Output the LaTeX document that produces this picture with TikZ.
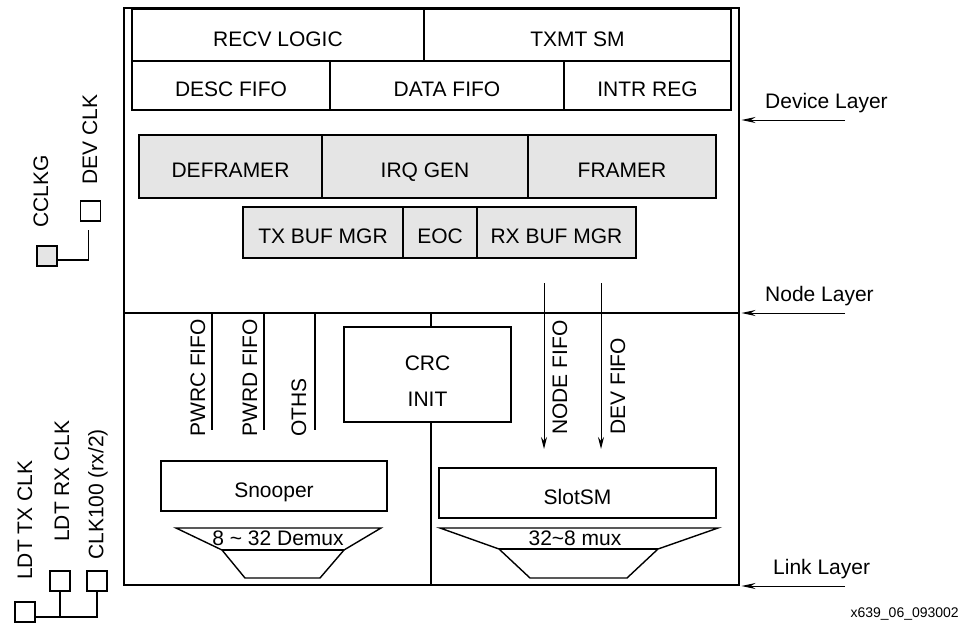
\documentclass[tikz,border=0pt]{standalone}
\usepackage{fontspec}
\setmainfont{Liberation Sans}
\usetikzlibrary{positioning, arrows.meta}
\tikzstyle{blk} = [draw, line width=1.6pt, inner sep=0pt, outer sep=0pt, text height=22pt, text depth=0pt]
\tikzstyle{grayblk} = [blk, fill=black!10]
\tikzstyle{pin} = [draw, line width=1.4pt, inner sep=0pt, outer sep=0pt, minimum width=20, minimum height=20]
\tikzstyle{vlabel} = [rotate=90, anchor=west, inner sep=0pt]
\tikzstyle{stub} = [line width=2.4pt]
\tikzstyle{fifoarrow} = [line width=1pt, -{Stealth[length=12pt,width=6pt]}]
\tikzstyle{layerarrow} = [line width=1pt, -{Stealth[length=14pt,width=6pt]}]

\begin{document}
\begin{tikzpicture}[x=1pt, y=-1pt, font=\fontsize{21}{25}\selectfont]
\useasboundingbox (0,0) rectangle (962,622);

% outer frame of the three layers
\node (frame) [draw, line width=2.4pt, inner sep=0pt, outer sep=0pt, minimum width=615, minimum height=577, anchor=north west] at (124,8) {};

% device layer
\node (recv) [blk, minimum width=292, minimum height=52, anchor=north west] at (132,9) {RECV LOGIC};
\node (txmt) [blk, minimum width=307, minimum height=52, right=0pt of recv] {TXMT SM};
\node (desc) [blk, minimum width=198, minimum height=49, anchor=north west] at (recv.south west) {DESC FIFO};
\node (data) [blk, minimum width=234, minimum height=49, right=0pt of desc] {DATA FIFO};
\node (intr) [blk, minimum width=167, minimum height=49, right=0pt of data] {INTR REG};

% node layer
\node (deframer) [grayblk, minimum width=183, minimum height=63, anchor=north west] at (139,135) {DEFRAMER};
\node (irqgen) [grayblk, minimum width=206, minimum height=63, right=0pt of deframer] {IRQ GEN};
\node (framer) [grayblk, minimum width=188, minimum height=63, right=0pt of irqgen] {FRAMER};
\node (txbuf) [grayblk, minimum width=160, minimum height=51, anchor=north west] at (243,207) {TX BUF MGR};
\node (eoc) [grayblk, minimum width=74, minimum height=51, right=0pt of txbuf] {EOC};
\node (rxbuf) [grayblk, minimum width=159, minimum height=51, right=0pt of eoc] {RX BUF MGR};

\coordinate (nodeline) at (124,313);
\coordinate (divtop) at (431,313);
\draw [stub] (frame.west |- nodeline) -- (frame.east |- nodeline);
\draw [stub] (divtop) -- (divtop |- frame.south);

% link layer
\node (crc) [blk, fill=white, minimum width=167, minimum height=95, align=center, text height={}, text depth={}, font=\fontsize{21}{36}\selectfont] at (427.5,374.5) {\rule{0pt}{27pt}CRC\\INIT};

\coordinate (pwrctop) at (212,313);
\coordinate (pwrcend) at (212,430);
\coordinate (pwrdtop) at (264,313);
\coordinate (pwrdend) at (264,430);
\coordinate (othstop) at (315,313);
\coordinate (othsend) at (315,430);
\draw [stub] (pwrctop) -- (pwrcend);
\draw [stub] (pwrdtop) -- (pwrdend);
\draw [stub] (othstop) -- (othsend);
\node (pwrc) [vlabel] at (198,437) {PWRC FIFO};
\node (pwrd) [vlabel] at (250,437) {PWRD FIFO};
\node (oths) [vlabel] at (299,437) {OTHS};

\coordinate (nodefifotop) at (544,283);
\coordinate (nodefifoend) at (544,449);
\coordinate (devfifotop) at (601,283);
\coordinate (devfifoend) at (601,449);
\draw [fifoarrow] (nodefifotop) -- (nodefifoend);
\draw [fifoarrow] (devfifotop) -- (devfifoend);
\node (nodefifo) [vlabel] at (560,435) {NODE FIFO};
\node (devfifo) [vlabel] at (618,435) {DEV FIFO};

\node (snooper) [blk, minimum width=226, minimum height=50] at (274,486) {Snooper};
\node (slotsm) [blk, minimum width=277, minimum height=50] at (577.5,493) {SlotSM};

% demux and mux
\draw [line width=1.4pt] (176,528) -- (381,528) -- (344,550) -- (320,578) -- (245,578) -- (222,550) -- cycle;
\draw [line width=1.4pt] (222,550) -- (344,550);
\node (demux) [inner sep=0pt] at (278,538) {8 \textasciitilde\ 32 Demux};
\draw [line width=1.4pt] (440,528) -- (718,528) -- (658,549) -- (627,578) -- (530,578) -- (499,549) -- cycle;
\draw [line width=1.4pt] (499,549) -- (658,549);
\node (mux) [inner sep=0pt] at (575,538) {32\textasciitilde 8 mux};

% layer pointers
\node (devlayer) [anchor=west, inner sep=0pt] at (765,103) {Device Layer};
\node (nodelayer) [anchor=west, inner sep=0pt] at (765,296) {Node Layer};
\node (linklayer) [anchor=west, inner sep=0pt] at (773,569) {Link Layer};
\coordinate (devtail) at (845,120);
\coordinate (nodetail) at (845,313);
\coordinate (linktail) at (845,586);
\draw [layerarrow, shorten >=2.5pt] (devtail) -- (devtail -| frame.east);
\draw [layerarrow, shorten >=2.5pt] (nodetail) -- (nodetail -| frame.east);
\draw [layerarrow, shorten >=2.5pt] (linktail) -- (linktail -| frame.east);

% clock pins
\node (cclkgpin) [pin, fill=black!10] at (47,256) {};
\node (devclkpin) [pin] at (90.5,211) {};
\node (cclkg) [vlabel] at (41,228) {CCLKG};
\node (devclk) [vlabel] at (90,185) {DEV CLK};
\draw [line width=1.2pt] ([yshift=-4pt]cclkgpin.east) -| ([xshift=-2pt,yshift=-9pt]devclkpin.south);

\node (txpin) [pin] at (25,612) {};
\node (rxpin) [pin] at (60,581) {};
\node (clk100pin) [pin] at (97,581) {};
\node (ldttx) [vlabel] at (25,580) {LDT TX CLK};
\node (ldtrx) [vlabel] at (62,542) {LDT RX CLK};
\node (clk100) [vlabel] at (98,560) {CLK100 (rx/2)};
\coordinate (pinbus) at (60,617);
\draw [line width=1.2pt] (txpin.east |- pinbus) -| (clk100pin.south);
\draw [line width=1.2pt] (rxpin.south) -- (rxpin.south |- pinbus);

\node (figid) [anchor=east, inner sep=0pt, font=\fontsize{14}{16}\selectfont] at (959,614) {x639\_06\_093002};

\end{tikzpicture}
\end{document}
